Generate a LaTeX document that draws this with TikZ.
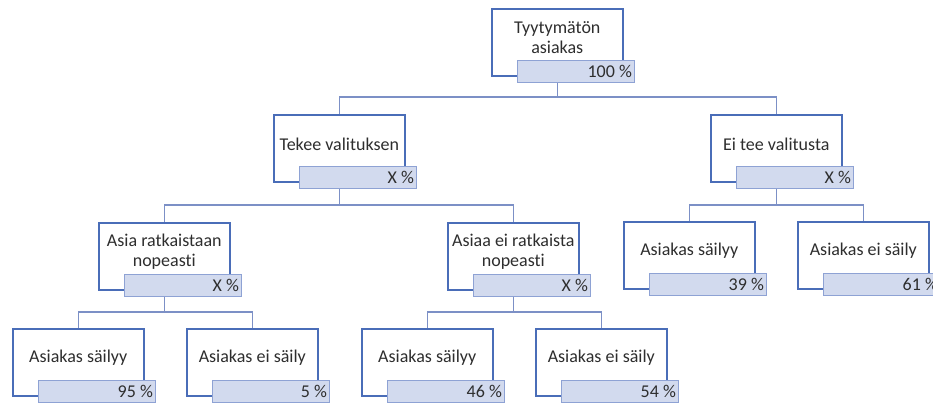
\documentclass[tikz,border=0pt]{standalone}
\usepackage{fontspec}
\setmainfont{Carlito}[Ligatures={NoCommon}]
\usetikzlibrary{calc}

\definecolor{boxline}{HTML}{4A6DB8}
\definecolor{barfill}{HTML}{D2DAEE}
\definecolor{barline}{HTML}{8EA2D4}
\definecolor{railline}{HTML}{7C90C6}
\definecolor{txt}{HTML}{2E2E2E}

\tikzset{
  decbox/.style={draw=boxline, line width=1.6pt, fill=white, rectangle,
    minimum width=131pt, minimum height=67pt, inner sep=0pt, anchor=north west},
  pctbar/.style={draw=barline, line width=1.1pt, fill=barfill, rectangle,
    minimum width=117pt, minimum height=22pt, inner sep=0pt, anchor=north west},
  boxtext/.style={text=txt, align=center, inner sep=0pt,
    font=\fontsize{18}{20}\selectfont},
  pcttext/.style={text=txt, inner sep=0pt, anchor=east,
    font=\fontsize{18}{20}\selectfont},
  rail/.style={draw=railline, line width=1.1pt}
}

% #1 name, #2 left, #3 top, #4 label, #5 share
\newcommand\decisionbox[5]{%
  \node[decbox] (#1) at (#2,#3) {};
  \node[boxtext] (#1-txt) at ($(#1.north)+(0,30)$) {#4};
  \node[pctbar] (#1-bar) at ($(#1.north west)+(26,52)$) {};
  \node[pcttext] (#1-pct) at ($(#1-bar.east)+(-3,0)$) {#5};
}

\begin{document}
\begin{tikzpicture}[x=1pt, y=-1pt]
\useasboundingbox (0,0) rectangle (933,403);

% heights of the three horizontal rails
\coordinate (r1) at (0,97);
\coordinate (r2) at (0,205);
\coordinate (r3) at (0,312);

% boxes
\decisionbox{root}{491}{8}{Tyytymätön\\asiakas}{100 \%}
\decisionbox{vali}{273}{114}{Tekee valituksen}{X \%}
\decisionbox{eivali}{710}{114}{Ei tee valitusta}{X \%}
\decisionbox{nopea}{98}{222}{Asia ratkaistaan\\nopeasti}{X \%}
\decisionbox{hidas}{447}{222}{Asiaa ei ratkaista\\nopeasti}{X \%}
\decisionbox{esail}{623}{221}{Asiakas säilyy}{39 \%}
\decisionbox{eeisail}{797}{221}{Asiakas ei säily}{61 \%}
\decisionbox{nsail}{12}{328}{Asiakas säilyy}{95 \%}
\decisionbox{neisail}{186}{328}{Asiakas ei säily}{5 \%}
\decisionbox{hsail}{361}{328}{Asiakas säilyy}{46 \%}
\decisionbox{heisail}{535}{328}{Asiakas ei säily}{54 \%}

% tree connectors
\draw[rail] (root.south |- root-bar.south) -- (root.south |- r1) -| (vali.north);
\draw[rail] (root.south |- r1) -| (eivali.north);
\draw[rail] (vali.south |- vali-bar.south) -- (vali.south |- r2) -| (nopea.north);
\draw[rail] (vali.south |- r2) -| (hidas.north);
\draw[rail] (eivali.south |- eivali-bar.south) -- (eivali.south |- r2) -| (esail.north);
\draw[rail] (eivali.south |- r2) -| (eeisail.north);
\draw[rail] (nopea.south |- nopea-bar.south) -- (nopea.south |- r3) -| (nsail.north);
\draw[rail] (nopea.south |- r3) -| (neisail.north);
\draw[rail] (hidas.south |- hidas-bar.south) -- (hidas.south |- r3) -| (hsail.north);
\draw[rail] (hidas.south |- r3) -| (heisail.north);
\end{tikzpicture}
\end{document}
